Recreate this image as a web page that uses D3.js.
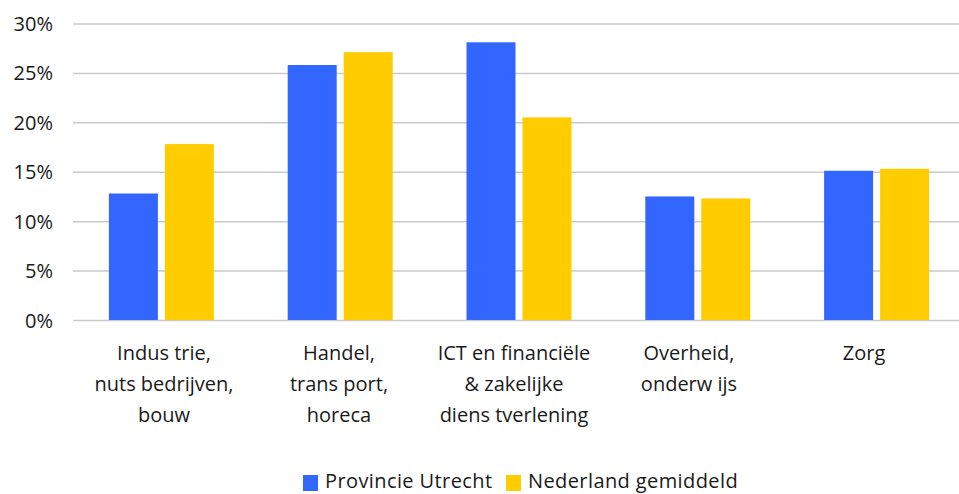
<!DOCTYPE html>
<html>
<head>
<meta charset="utf-8">
<script src="https://cdn.jsdelivr.net/npm/d3@7"></script>
<style>
  body { margin: 0; background: #fff; }
  svg text { font-family: "Open Sans", "Noto Sans", sans-serif; fill: #1a1a1a; }
</style>
</head>
<body>
<svg id="chart" width="959" height="494"></svg>
<script>
// data
var categories = [
  ["Indus trie,", "nuts bedrijven,", "bouw"],
  ["Handel,", "trans port,", "horeca"],
  ["ICT en financiële", "& zakelijke", "diens tverlening"],
  ["Overheid,", "onderw ijs"],
  ["Zorg"]
];
var utrecht = [12.8, 25.8, 28.1, 12.5, 15.1];
var nederland = [17.8, 27.1, 20.5, 12.3, 15.3];
var seriesNames = ["Provincie Utrecht", "Nederland gemiddeld"];
var seriesColors = ["#3366ff", "#ffcc00"];
var yTicks = [0, 5, 10, 15, 20, 25, 30];

var svg = d3.select("#chart");
var plotLeft = 73, plotRight = 959, plotTop = 23.5, plotBottom = 320;

// the category bands run slightly past the right edge (cropped chart)
var x = d3.scaleBand()
    .domain(d3.range(categories.length))
    .range([72, 966]);

// labels sit on a slightly tighter spacing than the bars
var xLabel = d3.scaleBand()
    .domain(d3.range(categories.length))
    .range([76.5, 951.5]);

var x1 = d3.scaleBand()
    .domain(d3.range(seriesNames.length))
    .range([x.bandwidth() / 2 - 52.5, x.bandwidth() / 2 + 52.5])
    .paddingInner(7 / 56);

var y = d3.scaleLinear().domain([0, 30]).range([plotBottom, plotTop]);

// gridlines + tick labels
var yAxis = d3.axisLeft(y).tickValues(yTicks).tickSize(-(plotRight - plotLeft)).tickFormat(function(d) { return d + "%"; });
var ga = svg.append("g").attr("transform", "translate(" + plotLeft + ",0)").call(yAxis);
ga.select(".domain").remove();
ga.selectAll(".tick line").attr("stroke", "#cacaca").attr("stroke-width", 1.5);
ga.selectAll(".tick text")
    .attr("x", -20)
    .attr("dy", "0.35em")
    .style("font-size", "20px")
    .style("font-family", "\"Open Sans\", sans-serif")
    .style("fill", "#1a1a1a");

// bars
var series = [utrecht, nederland];
var groups = svg.append("g").selectAll("g")
    .data(categories)
    .enter().append("g")
    .attr("transform", function(d, i) { return "translate(" + x(i) + ",0)"; });

groups.selectAll("rect")
    .data(function(d, i) { return series.map(function(s, k) { return { k: k, v: s[i] }; }); })
    .enter().append("rect")
    .attr("x", function(d) { return x1(d.k); })
    .attr("width", x1.bandwidth())
    .attr("y", function(d) { return y(d.v); })
    .attr("height", function(d) { return y(0) - y(d.v); })
    .attr("fill", function(d) { return seriesColors[d.k]; });

// category labels
svg.append("g").selectAll("text")
    .data(categories)
    .enter().append("text")
    .attr("text-anchor", "middle")
    .style("font-size", "20px")
    .each(function(lines, i) {
      d3.select(this).selectAll("tspan")
          .data(lines)
          .enter().append("tspan")
          .attr("x", xLabel(i) + xLabel.bandwidth() / 2)
          .attr("y", function(d, j) { return 360 + j * 31; })
          .text(function(d) { return d; });
    });

// legend
var legend = svg.append("g");
var lx = [303, 506];
seriesNames.forEach(function(name, k) {
  legend.append("rect")
      .attr("x", lx[k]).attr("y", 475)
      .attr("width", 15).attr("height", 16)
      .attr("fill", seriesColors[k]);
  legend.append("text")
      .attr("x", lx[k] + 22).attr("y", 488)
      .style("font-size", "20px")
      .style("letter-spacing", "0.4px")
      .text(name);
});
</script>
</body>
</html>
